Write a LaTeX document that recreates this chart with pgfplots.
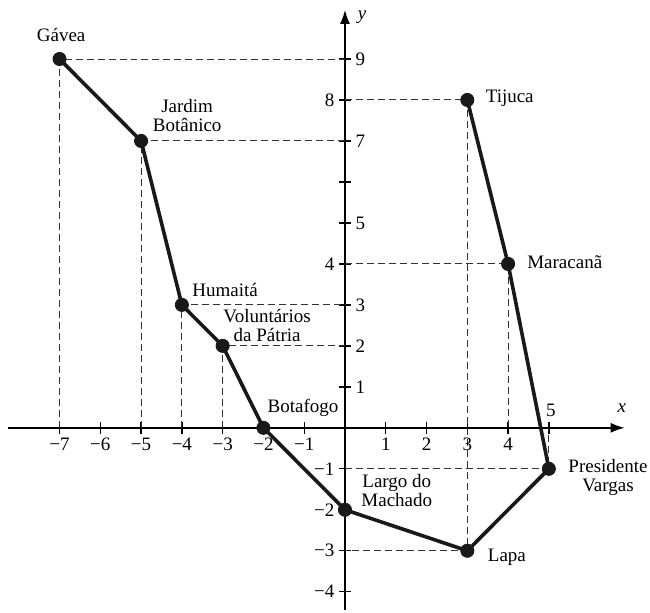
\documentclass[border=0pt]{standalone}
\usepackage{fontspec}
\setmainfont{Liberation Serif}
\usepackage{pgfplots}
\pgfplotsset{compat=1.18}
\usetikzlibrary{arrows.meta}
\begin{document}
\fontsize{9.5}{9.5}\selectfont
\begin{tikzpicture}
\begin{axis}[
  axis lines=middle,
  x=20.4pt, y=20.5pt,
  xmin=-8.26, xmax=6.86, ymin=-4.44, ymax=10.2,
  axis line style={line width=0.9pt, black, -{Latex[length=7pt,width=5pt]}},
  xtick={-7,-6,-5,-4,-3,-2,-1,1,2,3,4,5},
  ytick={-4,-3,-2,-1,1,2,3,4,5,6,7,8,9},
  xticklabel={\relax}, yticklabel={\relax},
  major tick length=6pt, tick align=center,
  tick style={line width=0.7pt, black},
  clip=false,
  every node/.append style={text=black!85, font=\fontsize{9.5}{9.5}\selectfont},
]
% dashed guide lines
\pgfplotsset{guide/.style={black!80, line width=0.5pt, dash pattern=on 3.5pt off 2pt}}
\addplot[guide] coordinates {(-7,0) (-7,9) (0,9)};
\addplot[guide] coordinates {(-5,0) (-5,7) (0,7)};
\addplot[guide] coordinates {(-4,0) (-4,3) (0,3)};
\addplot[guide] coordinates {(-3,0) (-3,2) (0,2)};
\addplot[guide] coordinates {(0,8) (3,8) (3,-3) (0,-3)};
\addplot[guide] coordinates {(0,4) (4,4) (4,0)};
\addplot[guide] coordinates {(0,-1) (5,-1) (5,0)};
% route
\addplot[black!90, line width=1.8pt, mark=*, mark size=3.3pt, mark options={fill=black!90, line width=0.4pt}]
 coordinates {(-7,9) (-5,7) (-4,3) (-3,2) (-2,0) (0,-2) (3,-3) (5,-1) (4,4) (3,8)};
% x tick labels
\node[inner sep=0pt] at (axis cs:-7,-0.4) {−7};
\node[inner sep=0pt] at (axis cs:-6,-0.4) {−6};
\node[inner sep=0pt] at (axis cs:-5,-0.4) {−5};
\node[inner sep=0pt] at (axis cs:-4,-0.4) {−4};
\node[inner sep=0pt] at (axis cs:-3,-0.4) {−3};
\node[inner sep=0pt] at (axis cs:-2,-0.4) {−2};
\node[inner sep=0pt] at (axis cs:-1,-0.4) {−1};
\node[inner sep=0pt] at (axis cs:1,-0.4) {1};
\node[inner sep=0pt] at (axis cs:2,-0.4) {2};
\node[inner sep=0pt] at (axis cs:3,-0.4) {3};
\node[inner sep=0pt] at (axis cs:4,-0.4) {4};
\node[inner sep=0pt] at (axis cs:5.05,0.42) {5};
% y tick labels
\node[anchor=west, inner sep=0pt] at (axis cs:0.25,1) {1};
\node[anchor=west, inner sep=0pt] at (axis cs:0.25,2) {2};
\node[anchor=west, inner sep=0pt] at (axis cs:0.25,3) {3};
\node[anchor=west, inner sep=0pt] at (axis cs:0.25,5) {5};
\node[anchor=west, inner sep=0pt] at (axis cs:0.25,7) {7};
\node[anchor=west, inner sep=0pt] at (axis cs:0.25,9) {9};
\node[anchor=east, inner sep=0pt] at (axis cs:-0.25,8) {8};
\node[anchor=east, inner sep=0pt] at (axis cs:-0.25,4) {4};
\node[anchor=east, inner sep=0pt] at (axis cs:-0.25,-1) {−1};
\node[anchor=east, inner sep=0pt] at (axis cs:-0.25,-2) {−2};
\node[anchor=east, inner sep=0pt] at (axis cs:-0.25,-3) {−3};
\node[anchor=east, inner sep=0pt] at (axis cs:-0.25,-4) {−4};
\node[inner sep=0pt] at (axis cs:6.79,0.49) {\textit{x}};
\node[inner sep=0pt] at (axis cs:0.42,10.02) {\textit{y}};
% place labels
\node[align=center] at (axis cs:-6.96,9.59) {Gávea};
\node[align=center] at (axis cs:-3.87,7.61) {Jardim\\Botânico};
\node[align=center] at (axis cs:-2.94,3.37) {Humaitá};
\node[align=center] at (axis cs:-1.91,2.49) {Voluntários\\da Pátria};
\node[align=center] at (axis cs:-1.03,0.49) {Botafogo};
\node[align=center] at (axis cs:1.27,-1.54) {Largo do\\Machado};
\node[align=center] at (axis cs:3.97,-3.15) {Lapa};
\node[align=center] at (axis cs:6.45,-1.22) {Presidente\\Vargas};
\node[align=center] at (axis cs:5.39,4.05) {Maracanã};
\node[align=center] at (axis cs:4.04,8.05) {Tijuca};
\coordinate (bl) at (axis cs:-8.46,-4.51);
\coordinate (tr) at (axis cs:7.48,10.44);
\end{axis}
\pgfresetboundingbox
\useasboundingbox (bl) rectangle (tr);
\end{tikzpicture}
\end{document}
